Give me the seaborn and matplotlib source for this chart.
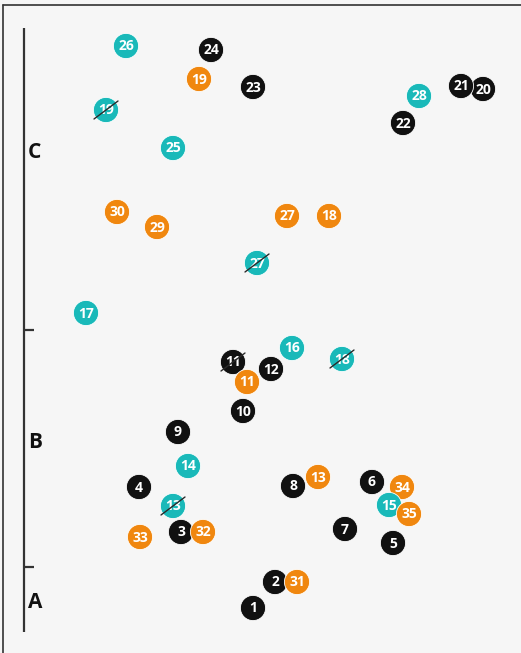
import matplotlib
matplotlib.use("Agg")
import matplotlib.pyplot as plt
import seaborn as sns
import pandas as pd

# Points : x depuis l'axe, y depuis le bas de l'axe
noir_num = [1, 2, 3, 4, 5, 6, 7, 8, 9, 10, 11, 12, 20, 21, 22, 23, 24]
noir_x = [229, 251, 157, 115, 369, 348, 321, 269, 154, 219, 209, 247, 459, 437, 379, 229, 187]
noir_y = [24, 50, 100, 145, 89, 150, 103, 146, 200, 221, 270, 263, 543, 546, 509, 545, 582]
noir_barre = [11]

orange_num = [11, 13, 18, 19, 27, 29, 30, 31, 32, 33, 34, 35]
orange_x = [223, 294, 305, 175, 263, 133, 93, 273, 179, 116, 378, 385]
orange_y = [250, 155, 416, 553, 416, 405, 420, 50, 100, 95, 145, 118]
orange_barre = []

turq_num = [13, 14, 15, 16, 17, 18, 19, 25, 26, 27, 28]
turq_x = [149, 164, 365, 268, 62, 318, 82, 149, 102, 233, 395]
turq_y = [126, 166, 127, 284, 319, 273, 522, 484, 586, 369, 536]
turq_barre = [13, 18, 19, 27]

zones = ["A", "B", "C"]
zone_y = [29, 190, 480]
limites = [65, 302]
axe_haut = 604

couleurs = {"noir": "#111111", "orange": "#f0870f", "turq": "#19b9b9"}


def faire_df(groupe, nums, xs, ys, barres):
    return pd.DataFrame({"groupe": groupe, "num": nums, "x": xs, "y": ys,
                         "barre": [n in barres for n in nums]})


df = pd.concat([
    faire_df("noir", noir_num, noir_x, noir_y, noir_barre),
    faire_df("orange", orange_num, orange_x, orange_y, orange_barre),
    faire_df("turq", turq_num, turq_x, turq_y, turq_barre),
], ignore_index=True)
# 35 orange passe au-dessus du 15 turquoise
idx35 = df[(df.groupe == "orange") & (df.num == 35)].index
df = pd.concat([df.drop(idx35), df.loc[idx35]], ignore_index=True)

sns.set_style("white")
plt.rcParams["font.family"] = ["Open Sans", "DejaVu Sans"]

fig = plt.figure(figsize=(5.21, 6.53), dpi=100)
fig.patch.set_facecolor("#f6f6f6")
ax = fig.add_axes([0, 0, 1, 1])
ax.set_facecolor("#f6f6f6")
ax.set_xlim(-24, 497)
ax.set_ylim(-21, 632)
ax.axis("off")

# cadre haut et gauche
ax.plot([3 / 521, 3 / 521], [0, 1 - 5 / 653], color="#333333", lw=1.2,
        transform=ax.transAxes, clip_on=False)
ax.plot([3 / 521, 1], [1 - 5 / 653, 1 - 5 / 653], color="#333333", lw=1.2,
        transform=ax.transAxes, clip_on=False)

# axe vertical avec zones
ax.plot([0, 0], [0, axe_haut], color="#333333", lw=1.6, solid_capstyle="butt")
for t in limites:
    ax.plot([0, 10], [t, t], color="#333333", lw=1.6, solid_capstyle="butt")
for z, zy in zip(zones, zone_y):
    ax.text(4, zy, z, fontsize=15, fontweight="bold", color="#111111",
            ha="left", va="center")

sns.scatterplot(data=df, x="x", y="y", hue="groupe", palette=couleurs,
                s=330, edgecolor="white", linewidth=0.6, legend=False,
                ax=ax, zorder=3)

for _, r in df.iterrows():
    ax.text(r.x, r.y - 0.5, str(r.num), color="white", fontsize=10,
            fontweight="bold", ha="center", va="center", zorder=4)
    if r.barre:
        ax.plot([r.x - 12, r.x + 12], [r.y - 9, r.y + 9], color="#2a2a2a",
                lw=1.0, zorder=5)

fig.savefig("out.png", dpi=100, facecolor=fig.get_facecolor())
